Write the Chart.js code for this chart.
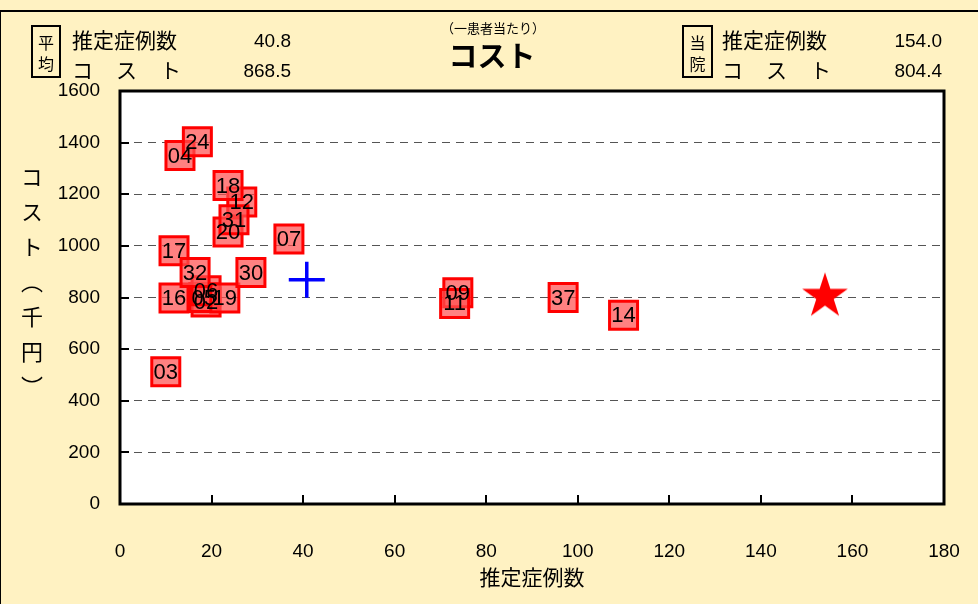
<!DOCTYPE html>
<html lang="ja">
<head>
<meta charset="utf-8">
<script src="https://cdn.jsdelivr.net/npm/chart.js@4/dist/chart.umd.min.js"></script>
<style>
  html, body { margin: 0; padding: 0; background: #FFF2C2; }
  #wrap { position: relative; width: 978px; height: 604px; overflow: hidden; background: #FFF2C2;
          font-family: "Noto Sans CJK JP", sans-serif; color: #000; }
  #frame { position: absolute; left: 0; top: 10px; width: 1000px; height: 640px;
           border-top: 2px solid #000; border-left: 1px solid #000; }
  canvas { position: absolute; left: 0; top: 0; }
  .t { position: absolute; white-space: nowrap; line-height: 1; }
  .num { font-family: "Liberation Sans", Arial, sans-serif; font-size: 19px; width: 110px; text-align: right; }
  .jp { font-size: 21px; }
  .box { position: absolute; box-sizing: border-box; border: 2px solid #000; width: 30px; height: 53px; top: 25px; }
  .box span { position: absolute; left: 0; width: 100%; text-align: center; font-size: 16px; line-height: 1; }
  #ytitle { position: absolute; left: 21px; top: 166px; writing-mode: vertical-rl; font-size: 22px;
            line-height: 1; letter-spacing: 13px; }
</style>
</head>
<body>
<div id="wrap">
  <div id="frame"></div>
  <canvas id="chart" width="978" height="604"></canvas>

  <!-- 平均 -->
  <div class="box" style="left:31px;"><span style="top:7px;">平</span><span style="top:28px;">均</span></div>
  <div class="t jp" style="left:72px; top:29px;">推定症例数</div>
  <div class="t jp" style="left:72px; top:59px; letter-spacing:23px;">コスト</div>
  <div class="t num" id="avgCount" style="left:181px; top:31px;"></div>
  <div class="t num" id="avgCost" style="left:181px; top:61px;"></div>

  <!-- 当院 -->
  <div class="box" style="left:682px; width:31px;"><span style="top:7px;">当</span><span style="top:28px;">院</span></div>
  <div class="t jp" style="left:722px; top:29px;">推定症例数</div>
  <div class="t jp" style="left:722px; top:59px; letter-spacing:23px;">コスト</div>
  <div class="t num" id="ownCount" style="left:832px; top:31px;"></div>
  <div class="t num" id="ownCost" style="left:832px; top:61px;"></div>

  <!-- title -->
  <div class="t" style="left:393px; width:200px; text-align:center; top:21px; font-size:13px;">（一患者当たり）</div>
  <div class="t" style="left:392px; width:200px; text-align:center; top:40px; font-size:29px; font-weight:bold;">コスト</div>

  <div id="ytitle">コスト（千円）</div>
</div>

<script>
// hospital ids and their (estimated case count, cost per patient)
const hospitalIds = ['02', '03', '04', '05', '06', '07', '09', '11', '12', '14',
                     '16', '17', '18', '19', '20', '24', '30', '31', '32', '37'];
const caseCounts  = [18.8, 10.0, 13.1, 18.3, 18.8, 36.9, 73.8, 73.1, 26.6, 110.0,
                     11.8, 11.8, 23.6, 22.9, 23.6, 16.9, 28.6, 24.9, 16.4, 96.8];
const costs       = [783, 512, 1350, 800, 826, 1027, 818, 777, 1170, 731,
                     798, 981, 1234, 798, 1054, 1403, 897, 1101, 897, 800];

// average of all hospitals / this hospital
const averagePoint = [40.8, 868.5];
const ownPoint = [154.0, 804.4];

const xTicks = [0, 20, 40, 60, 80, 100, 120, 140, 160, 180];
const yTicks = [0, 200, 400, 600, 800, 1000, 1200, 1400, 1600];

document.getElementById('avgCount').textContent = averagePoint[0].toFixed(1);
document.getElementById('avgCost').textContent = averagePoint[1].toFixed(1);
document.getElementById('ownCount').textContent = ownPoint[0].toFixed(1);
document.getElementById('ownCost').textContent = ownPoint[1].toFixed(1);

// filled five point star used as the marker for this hospital
function makeStar(r) {
  const c = document.createElement('canvas');
  c.width = c.height = Math.ceil(r * 2 + 2);
  const g = c.getContext('2d');
  const cx = c.width / 2, cy = c.height / 2;
  g.beginPath();
  for (let i = 0; i < 10; i++) {
    const rad = i % 2 === 0 ? r : r * 0.382;
    const a = -Math.PI / 2 + i * Math.PI / 5;
    g.lineTo(cx + rad * Math.cos(a), cy + rad * Math.sin(a));
  }
  g.closePath();
  g.fillStyle = '#FF0000';
  g.fill();
  return c;
}

// white plot area, frame and inward tick marks
const plotFrame = {
  id: 'plotFrame',
  beforeDraw(chart) {
    const { ctx, chartArea: a } = chart;
    ctx.save();
    ctx.fillStyle = '#FFFFFF';
    ctx.fillRect(a.left, a.top, a.right - a.left, a.bottom - a.top);
    ctx.restore();
  },
  beforeDatasetsDraw(chart) {
    const { ctx, chartArea: a, scales } = chart;
    ctx.save();
    ctx.strokeStyle = '#000';
    ctx.lineWidth = 2;
    ctx.beginPath();
    yTicks.forEach(v => {
      const y = Math.round(scales.y.getPixelForValue(v));
      ctx.moveTo(a.left, y);
      ctx.lineTo(a.left + 9, y);
    });
    xTicks.forEach(v => {
      const x = Math.round(scales.x.getPixelForValue(v));
      ctx.moveTo(x, a.bottom);
      ctx.lineTo(x, a.bottom - 9);
    });
    ctx.stroke();
    ctx.lineWidth = 3;
    ctx.strokeRect(a.left, a.top, a.right - a.left, a.bottom - a.top);
    ctx.restore();
  }
};

// hospital id written inside each box
const idLabels = {
  id: 'idLabels',
  afterDatasetsDraw(chart) {
    const meta = chart.getDatasetMeta(0);
    const ctx = chart.ctx;
    ctx.save();
    ctx.fillStyle = '#000';
    ctx.font = '22px "Liberation Sans", Arial, sans-serif';
    ctx.textAlign = 'center';
    ctx.textBaseline = 'middle';
    meta.data.forEach((pt, i) => {
      ctx.fillText(hospitalIds[i], pt.x, pt.y + 1);
    });
    ctx.restore();
  }
};

const tickFont = { family: '"Liberation Sans", Arial, sans-serif', size: 19 };

new Chart(document.getElementById('chart'), {
  type: 'scatter',
  data: {
    datasets: [
      {
        label: '病院',
        data: caseCounts.map((x, i) => ({ x: x, y: costs[i] })),
        pointStyle: 'rect',
        pointRadius: 19.8,
        pointHoverRadius: 19.8,
        backgroundColor: 'rgba(255, 80, 80, 0.72)',
        borderColor: '#FF0000',
        borderWidth: 3
      },
      {
        label: '平均',
        data: [{ x: averagePoint[0], y: averagePoint[1] }],
        pointStyle: 'cross',
        pointRadius: 18,
        pointHoverRadius: 18,
        borderColor: '#0000FF',
        borderWidth: 3.5
      },
      {
        label: '当院',
        data: [{ x: ownPoint[0], y: ownPoint[1] }],
        pointStyle: makeStar(24),
        pointRadius: 24
      }
    ]
  },
  options: {
    responsive: false,
    animation: false,
    devicePixelRatio: 1,
    layout: { padding: { left: 0, top: 91, right: 34, bottom: 0 } },
    plugins: {
      legend: { display: false },
      tooltip: { enabled: false }
    },
    scales: {
      x: {
        type: 'linear',
        min: 0,
        max: 180,
        afterBuildTicks: s => { s.ticks = xTicks.map(v => ({ value: v })); },
        ticks: { color: '#000', font: tickFont, padding: 36, maxRotation: 0, callback: v => String(v) },
        grid: { display: false, drawTicks: false },
        border: { display: false },
        title: {
          display: true,
          text: '推定症例数',
          color: '#000',
          font: { family: '"Noto Sans CJK JP", sans-serif', size: 21 },
          padding: { top: 0, bottom: 14 }
        },
        afterFit: s => { s.height = 100; s.paddingLeft = 0; s.paddingRight = 0; }
      },
      y: {
        type: 'linear',
        min: 0,
        max: 1600,
        afterBuildTicks: s => { s.ticks = yTicks.map(v => ({ value: v })); },
        ticks: { color: '#000', font: tickFont, padding: 20, callback: v => String(v) },
        grid: { color: '#555555', lineWidth: 1, drawTicks: false },
        border: { display: false, dash: [8, 6] },
        afterFit: s => { s.width = 120; s.paddingTop = 0; s.paddingBottom = 0; }
      }
    }
  },
  plugins: [plotFrame, idLabels]
});
</script>
</body>
</html>
